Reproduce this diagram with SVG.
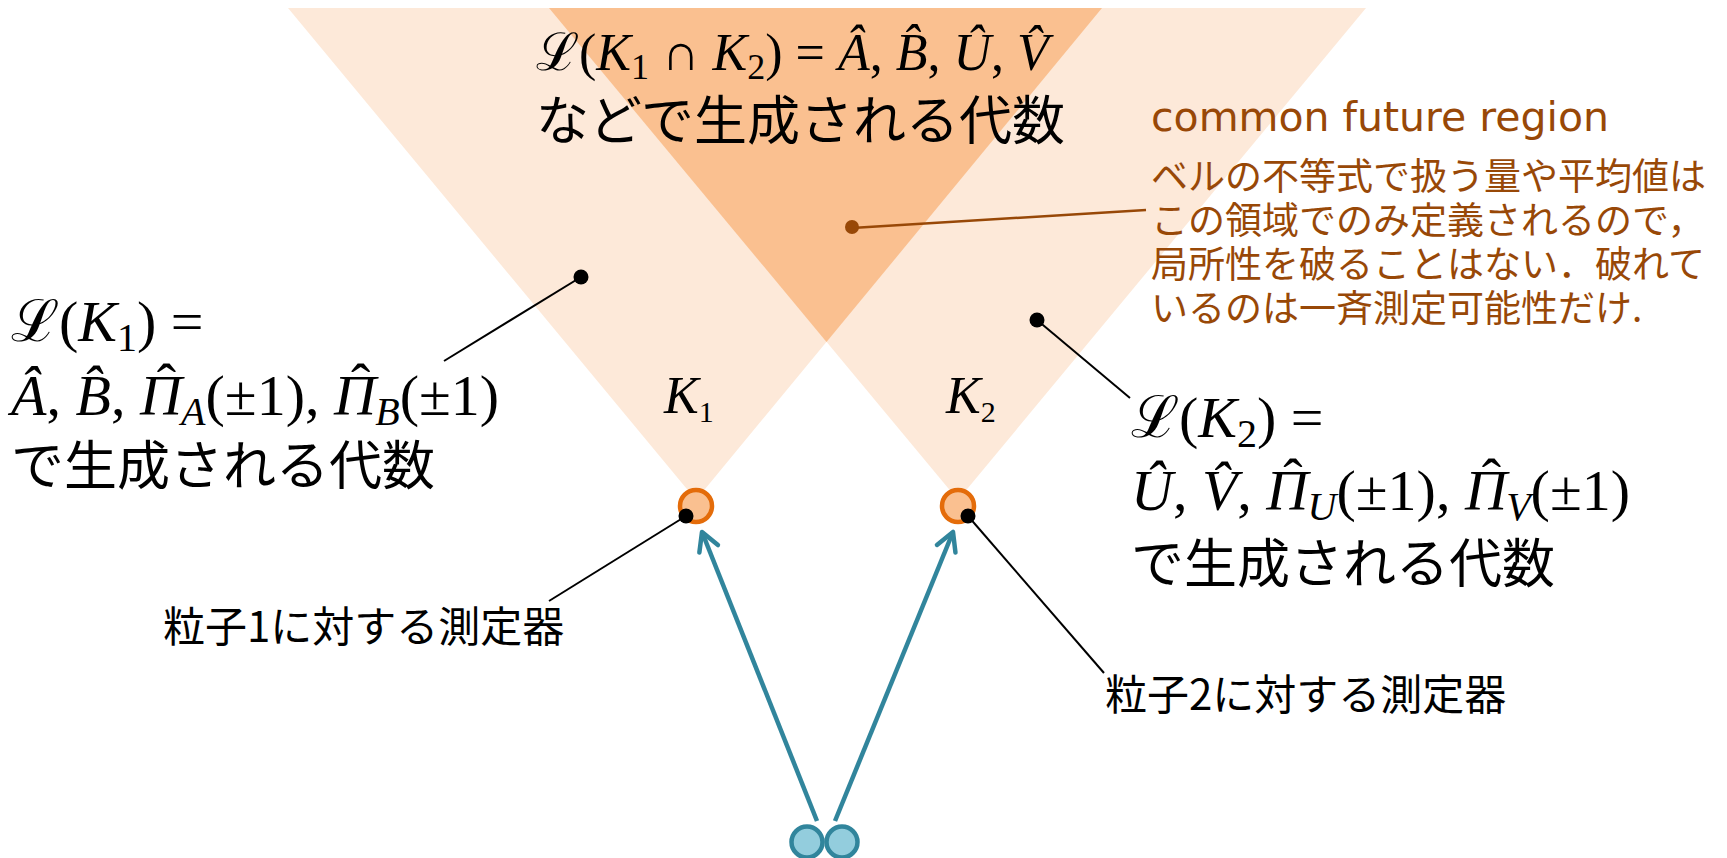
<svg xmlns="http://www.w3.org/2000/svg" width="1727" height="858" viewBox="0 0 1727 858">
<defs>
<style>
.lc{fill:#FDE9D9}
.dc{fill:#FAC090}
.jp{font-family:"Noto Sans CJK JP","Noto Sans",sans-serif;fill:#000}
.m{font-family:"Liberation Serif","DejaVu Serif",serif;fill:#000;font-size:52px}
.mb{font-size:58px}
.i{font-style:italic}
.br{fill:#984807}
.lead{stroke:#000;stroke-width:2;fill:none}
.dot{fill:#000}
.det{fill:#FAC090;stroke:#E46C0A;stroke-width:4.5}
.par{fill:#93CDDD;stroke:#31859C;stroke-width:4.5}
.arr{stroke:#31859C;stroke-width:4.5;fill:none;marker-end:url(#ah)}
</style>
<marker id="ah" markerUnits="userSpaceOnUse" viewBox="-24 -14 28 28" markerWidth="28" markerHeight="28" refX="0" refY="0" orient="auto">
<path d="M -18 -10 L 0 0 L -18 10" fill="none" stroke="#31859C" stroke-width="4.5" stroke-linecap="round" stroke-linejoin="round"/>
</marker>
</defs>
<g id="cones">
<polygon class="lc" points="288,8 1102,8 696,500"/>
<polygon class="lc" points="549,8 1366,8 958,500"/>
<polygon class="dc" points="549,8 1102,8 826.5,342"/>
</g>
<g id="connectors">
<line class="lead" x1="581" y1="277" x2="444" y2="361"/>
<line class="lead" x1="1037" y1="320" x2="1130" y2="398"/>
<line x1="852" y1="228" x2="1146" y2="210" stroke="#984807" stroke-width="2.5"/>
<line class="lead" x1="686" y1="516" x2="549" y2="601"/>
<line class="lead" x1="968" y1="516" x2="1104" y2="673"/>
<line class="arr" x1="817" y1="821" x2="702" y2="532"/>
<line class="arr" x1="835" y1="821" x2="953" y2="532"/>
</g>
<g id="detector1">
<circle class="det" cx="696" cy="506" r="16"/>
<circle class="dot" cx="686" cy="516" r="7.5"/>
</g>
<g id="detector2">
<circle class="det" cx="958" cy="506" r="16"/>
<circle class="dot" cx="968" cy="516" r="7.5"/>
</g>
<g id="particles">
<circle class="par" cx="807" cy="842" r="15.5"/>
<circle class="par" cx="842" cy="842" r="15.5"/>
</g>
<g id="dots">
<circle class="dot" cx="581" cy="277" r="7.5"/>
<circle class="dot" cx="1037" cy="320" r="7.5"/>
<circle cx="852" cy="227" r="7" fill="#984807"/>
</g>
<g id="label-common">
<text class="m" x="536" y="70">ℒ(<tspan class="i">K</tspan><tspan font-size="36" dy="9">1</tspan><tspan dy="-9"> ∩ </tspan><tspan class="i">K</tspan><tspan font-size="36" dy="9">2</tspan><tspan dy="-9">) = </tspan><tspan class="i">Â</tspan>, <tspan class="i">B̂</tspan>, <tspan class="i">Û</tspan>, <tspan class="i">V̂</tspan></text>
<text class="jp" x="536" y="140" font-size="53">などで生成される代数</text>
</g>
<g id="label-K1-algebra">
<text class="m mb" x="11" y="341">ℒ(<tspan class="i">K</tspan><tspan font-size="40" dy="10">1</tspan><tspan dy="-10">) =</tspan></text>
<text class="m mb" x="11" y="415"><tspan class="i">Â</tspan>, <tspan class="i">B̂</tspan>, <tspan class="i">Π</tspan><tspan dx="-25" dy="-12">ˆ</tspan><tspan class="i" font-size="40" dx="5" dy="22">A</tspan><tspan dy="-10">(±1), </tspan><tspan class="i">Π</tspan><tspan dx="-25" dy="-12">ˆ</tspan><tspan class="i" font-size="40" dx="5" dy="22">B</tspan><tspan dy="-10">(±1)</tspan></text>
<text class="jp" x="11" y="485" font-size="53">で生成される代数</text>
</g>
<g id="label-K2-algebra">
<text class="m mb" x="1131" y="437">ℒ(<tspan class="i">K</tspan><tspan font-size="40" dy="10">2</tspan><tspan dy="-10">) =</tspan></text>
<text class="m mb" x="1131" y="510"><tspan class="i">Û</tspan>, <tspan class="i">V̂</tspan>, <tspan class="i">Π</tspan><tspan dx="-25" dy="-12">ˆ</tspan><tspan class="i" font-size="40" dx="5" dy="22">U</tspan><tspan dy="-10">(±1), </tspan><tspan class="i">Π</tspan><tspan dx="-25" dy="-12">ˆ</tspan><tspan class="i" font-size="40" dx="5" dy="22">V</tspan><tspan dy="-10">(±1)</tspan></text>
<text class="jp" x="1131" y="583" font-size="53">で生成される代数</text>
</g>
<g id="label-K1">
<text class="m" x="664" y="413" font-size="44"><tspan class="i">K</tspan><tspan font-size="30" dy="9">1</tspan></text>
</g>
<g id="label-K2">
<text class="m" x="946" y="413" font-size="44"><tspan class="i">K</tspan><tspan font-size="30" dy="9">2</tspan></text>
</g>
<g id="label-region">
<text x="1151" y="131" font-family="DejaVu Sans, sans-serif" font-size="41" class="br">common future region</text>
<text class="jp br" font-size="37"><tspan x="1151" y="190">ベルの不等式で扱う量や平均値は</tspan><tspan x="1151" y="234">この領域でのみ定義されるので，</tspan><tspan x="1151" y="278">局所性を破ることはない．破れて</tspan><tspan x="1151" y="322">いるのは一斉測定可能性だけ.</tspan></text>
</g>
<g id="label-det1">
<text class="jp" x="163" y="642" font-size="42">粒子1に対する測定器</text>
</g>
<g id="label-det2">
<text class="jp" x="1105" y="710" font-size="42">粒子2に対する測定器</text>
</g>
</svg>
